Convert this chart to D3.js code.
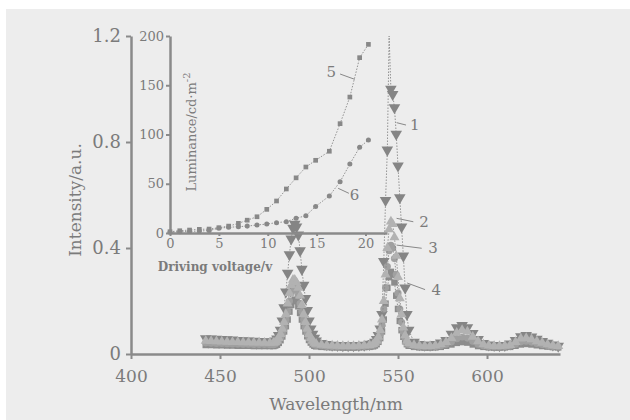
<!DOCTYPE html>
<html lang="en">
<head>
  <meta charset="UTF-8">
  <title>EL spectra and luminance</title>
  <script src="https://d3js.org/d3.v7.min.js"></script>
  <style>
    body { margin: 0; background: #fff; }
    svg text { font-family: "DejaVu Serif", serif; fill: #7b7b7b; }
  </style>
</head>
<body>
  <div id="chart"></div>

  <script>
    // wavelength grid (nm) shared by the four spectra
    const wavelength = [442,445,448,451,454,457,460,463,466,469,472,475,478,
      480,481,482,483,484,485,486,487,488,489,490,491,492,493,494,495,496,497,498,499,500,501,502,503,504,
      507,510,513,516,519,522,525,528,531,534,
      536,537,538,539,540,541,542,543,544,545,546,547,548,549,550,551,552,553,554,555,556,
      559,562,565,568,571,574,577,580,583,586,589,592,595,598,601,604,607,610,613,616,619,622,625,628,631,634,637,640];

    const spec1 = [0.058,0.057,0.056,0.055,0.054,0.053,0.052,0.051,0.050,0.049,0.048,0.047,0.046,
      0.046,0.050,0.057,0.070,0.090,0.125,0.175,0.235,0.305,0.375,0.435,0.475,0.490,0.480,0.450,0.390,0.320,0.260,0.210,0.165,0.125,0.095,0.075,0.060,0.050,
      0.040,0.036,0.034,0.033,0.032,0.032,0.032,0.033,0.034,0.037,
      0.040,0.045,0.055,0.070,0.095,0.150,0.350,0.580,0.770,1.200,1.000,0.980,0.930,0.830,0.710,0.590,0.480,0.370,0.250,0.150,0.090,
      0.045,0.036,0.034,0.034,0.036,0.042,0.052,0.075,0.100,0.108,0.100,0.078,0.055,0.040,0.035,0.033,0.032,0.033,0.038,0.052,0.066,0.070,0.065,0.056,0.048,0.041,0.035,0.030];

    const spec2 = [0.050,0.049,0.048,0.047,0.046,0.045,0.045,0.044,0.044,0.043,0.043,0.042,0.042,
      0.042,0.045,0.050,0.060,0.075,0.095,0.120,0.150,0.190,0.230,0.260,0.280,0.280,0.270,0.250,0.220,0.185,0.150,0.120,0.095,0.075,0.060,0.050,0.042,0.038,
      0.035,0.033,0.032,0.031,0.030,0.030,0.030,0.031,0.032,0.034,
      0.037,0.042,0.050,0.065,0.090,0.130,0.200,0.300,0.400,0.470,0.500,0.490,0.440,0.370,0.290,0.210,0.150,0.100,0.070,0.050,0.040,
      0.034,0.031,0.030,0.030,0.032,0.036,0.045,0.060,0.080,0.090,0.085,0.065,0.048,0.036,0.032,0.030,0.030,0.031,0.034,0.045,0.058,0.060,0.055,0.048,0.042,0.036,0.032,0.030];

    const spec3 = [0.042,0.041,0.040,0.040,0.039,0.038,0.038,0.037,0.037,0.036,0.036,0.036,0.035,
      0.035,0.038,0.042,0.050,0.062,0.080,0.100,0.130,0.160,0.200,0.230,0.245,0.250,0.240,0.220,0.190,0.160,0.130,0.100,0.080,0.063,0.050,0.042,0.036,0.033,
      0.031,0.029,0.028,0.027,0.027,0.027,0.027,0.028,0.029,0.030,
      0.033,0.037,0.044,0.055,0.075,0.110,0.170,0.250,0.330,0.390,0.410,0.400,0.360,0.300,0.230,0.170,0.120,0.085,0.060,0.045,0.036,
      0.030,0.028,0.027,0.027,0.028,0.031,0.037,0.046,0.058,0.064,0.060,0.048,0.037,0.031,0.028,0.027,0.027,0.028,0.030,0.037,0.046,0.048,0.045,0.040,0.036,0.032,0.029,0.027];

    const spec4 = [0.034,0.034,0.033,0.033,0.032,0.032,0.031,0.031,0.031,0.030,0.030,0.030,0.030,
      0.030,0.032,0.035,0.042,0.052,0.066,0.085,0.105,0.130,0.160,0.185,0.200,0.205,0.200,0.180,0.155,0.130,0.105,0.085,0.067,0.053,0.043,0.036,0.031,0.029,
      0.027,0.026,0.025,0.025,0.024,0.024,0.024,0.025,0.026,0.027,
      0.029,0.032,0.037,0.046,0.060,0.085,0.130,0.190,0.250,0.290,0.310,0.300,0.270,0.220,0.170,0.125,0.090,0.065,0.048,0.037,0.031,
      0.027,0.025,0.024,0.024,0.025,0.027,0.031,0.036,0.042,0.045,0.043,0.036,0.030,0.027,0.025,0.024,0.024,0.025,0.027,0.031,0.036,0.038,0.036,0.033,0.030,0.028,0.026,0.025];

    // inset: luminance vs driving voltage
    const voltage = [0,1,2,3,4,5,6,7,7.9,8.9,9.9,10.9,11.9,12.9,13.9,14.9,16.3,17.4,18.4,19.4,20.3];
    const lum5 = [1.3,2.3,3,3.7,4,5.4,7,9.8,13,16.5,24,32.5,44.7,56,67,73.8,83,111,138,178,191.5];
    const lum6 = [0.8,1.2,1.6,2.0,2.5,4.8,5.8,6.4,7,8.1,9.1,10.5,11.5,15,17.5,27,37.6,52,70,87,94.4];

    const xTicks = [400, 450, 500, 550, 600];
    const yTicks = [0, 0.4, 0.8, 1.2];
    const vTicks = [0, 5, 10, 15, 20];
    const lTicks = [0, 50, 100, 150, 200];

    const width = 630, height = 420;
    const ink = "#8a8a8a";

    const svg = d3.select("#chart").append("svg")
      .attr("width", width).attr("height", height);

    // scanned page background
    svg.append("rect").attr("x", 6).attr("y", 9).attr("width", width - 6).attr("height", height - 9)
      .attr("fill", "#ededed");

    const x = d3.scaleLinear().domain([400, 641]).range([131, 560]);
    const y = d3.scaleLinear().domain([0, 1.2]).range([354, 36]);
    const xi = d3.scaleLinear().domain([0, 22.2]).range([170, 387]);
    const yi = d3.scaleLinear().domain([0, 200]).range([233, 36]);

    svg.append("clipPath").attr("id", "clip")
      .append("rect").attr("x", 131).attr("y", 36).attr("width", 440).attr("height", 324);

    function styleAxis(g, fontSize) {
      g.select(".domain").attr("stroke", ink).attr("stroke-width", 2.5);
      g.selectAll(".tick line").attr("stroke", ink).attr("stroke-width", 2);
      g.selectAll(".tick text").attr("fill", "#7b7b7b")
        .attr("font-family", "DejaVu Serif").attr("font-size", fontSize);
    }

    // main axes
    svg.append("g").attr("transform", "translate(0,354)")
      .call(d3.axisBottom(x).tickValues(xTicks).tickSize(5).tickSizeOuter(0).tickPadding(11))
      .call(g => styleAxis(g, 17));
    svg.append("g").attr("transform", "translate(131,0)")
      .call(d3.axisLeft(y).tickValues(yTicks).tickFormat(d => d === 0 ? "0" : d3.format(".1f")(d))
        .tickSize(5).tickSizeOuter(0).tickPadding(5))
      .call(g => styleAxis(g, 18));

    svg.append("text").attr("x", 336).attr("y", 410).attr("text-anchor", "middle")
      .attr("font-size", 17).text("Wavelength/nm");
    svg.append("text").attr("transform", "translate(81,200) rotate(-90)")
      .attr("text-anchor", "middle").attr("font-size", 17).text("Intensity/a.u.");

    // spectra
    const series = [
      { vals: spec1, shape: d3.symbolTriangle, flip: true, fill: "#858585", size: 58 },
      { vals: spec4, shape: d3.symbolSquare, flip: false, fill: "#8c8c8c", size: 42 },
      { vals: spec3, shape: d3.symbolCircle, flip: false, fill: "#a0a0a0", size: 40 },
      { vals: spec2, shape: d3.symbolTriangle, flip: false, fill: "#b2b2b2", size: 44 }
    ];

    const specG = svg.append("g").attr("clip-path", "url(#clip)");
    const line = d3.line().x(d => x(d[0])).y(d => y(d[1]));

    series.forEach(s => {
      const pts = wavelength.map((w, i) => [w, s.vals[i]]);
      specG.append("path").datum(pts).attr("d", line)
        .attr("fill", "none").attr("stroke", "#888").attr("stroke-width", 0.9)
        .attr("stroke-dasharray", "1.5,1.5");
      specG.selectAll(null).data(pts.filter(d => d[1] < 1.15)).enter().append("path")
        .attr("d", d3.symbol().type(s.shape).size(s.size))
        .attr("transform", d => `translate(${x(d[0])},${y(d[1])})` + (s.flip ? " rotate(180)" : ""))
        .attr("fill", s.fill);
    });

    // curve labels on spectra
    const specLabels = [
      { t: "1", from: [549.2, 0.873], to: [554.5, 0.864], at: [556.7, 0.864] },
      { t: "2", from: [549.2, 0.512], to: [558.6, 0.499], at: [562.0, 0.499] },
      { t: "3", from: [549.2, 0.411], to: [563.3, 0.399], at: [567.0, 0.399] },
      { t: "4", from: [555.1, 0.268], to: [565.2, 0.243], at: [568.8, 0.243] }
    ];
    specLabels.forEach(l => {
      svg.append("line").attr("x1", x(l.from[0])).attr("y1", y(l.from[1]))
        .attr("x2", x(l.to[0])).attr("y2", y(l.to[1]))
        .attr("stroke", "#888").attr("stroke-width", 1);
      svg.append("text").attr("x", x(l.at[0])).attr("y", y(l.at[1]) + 5)
        .attr("font-size", 15).text(l.t);
    });

    // inset axes
    svg.append("g").attr("transform", "translate(0,233)")
      .call(d3.axisBottom(xi).tickValues(vTicks).tickSize(3).tickSizeOuter(0).tickPadding(3))
      .call(g => styleAxis(g, 13));
    svg.append("g").attr("transform", "translate(170,0)")
      .call(d3.axisLeft(yi).tickValues(lTicks).tickSize(4).tickSizeOuter(0).tickPadding(2))
      .call(g => styleAxis(g, 13));

    svg.append("text").attr("x", 215).attr("y", 271).attr("text-anchor", "middle")
      .attr("font-size", 12).attr("font-weight", "bold").text("Driving voltage/v");
    const lumLabel = svg.append("text").attr("transform", "translate(196,132) rotate(-90)")
      .attr("text-anchor", "middle").attr("font-size", 13);
    lumLabel.append("tspan").text("Luminance/cd·m");
    lumLabel.append("tspan").attr("dy", -6).attr("font-size", 10).text("-2");

    const lineI = d3.line().x(d => xi(d[0])).y(d => yi(d[1]));
    const inset = [
      { vals: lum5, shape: d3.symbolSquare, size: 22 },
      { vals: lum6, shape: d3.symbolCircle, size: 20 }
    ];
    inset.forEach(s => {
      const pts = voltage.map((v, i) => [v, s.vals[i]]);
      svg.append("path").datum(pts).attr("d", lineI)
        .attr("fill", "none").attr("stroke", "#888").attr("stroke-width", 0.9)
        .attr("stroke-dasharray", "1.5,1.5");
      svg.selectAll(null).data(pts).enter().append("path")
        .attr("d", d3.symbol().type(s.shape).size(s.size))
        .attr("transform", d => `translate(${xi(d[0])},${yi(d[1])})`)
        .attr("fill", "#888");
    });

    const insetLabels = [
      { t: "5", from: [18.9, 156], to: [17.4, 161.4], at: [16.0, 158] },
      { t: "6", from: [17.2, 45.4], to: [18.3, 40.3], at: [18.4, 34] }
    ];
    insetLabels.forEach(l => {
      svg.append("line").attr("x1", xi(l.from[0])).attr("y1", yi(l.from[1]))
        .attr("x2", xi(l.to[0])).attr("y2", yi(l.to[1]))
        .attr("stroke", "#888").attr("stroke-width", 1);
      svg.append("text").attr("x", xi(l.at[0])).attr("y", yi(l.at[1]))
        .attr("font-size", 15).text(l.t);
    });
  </script>
</body>
</html>
